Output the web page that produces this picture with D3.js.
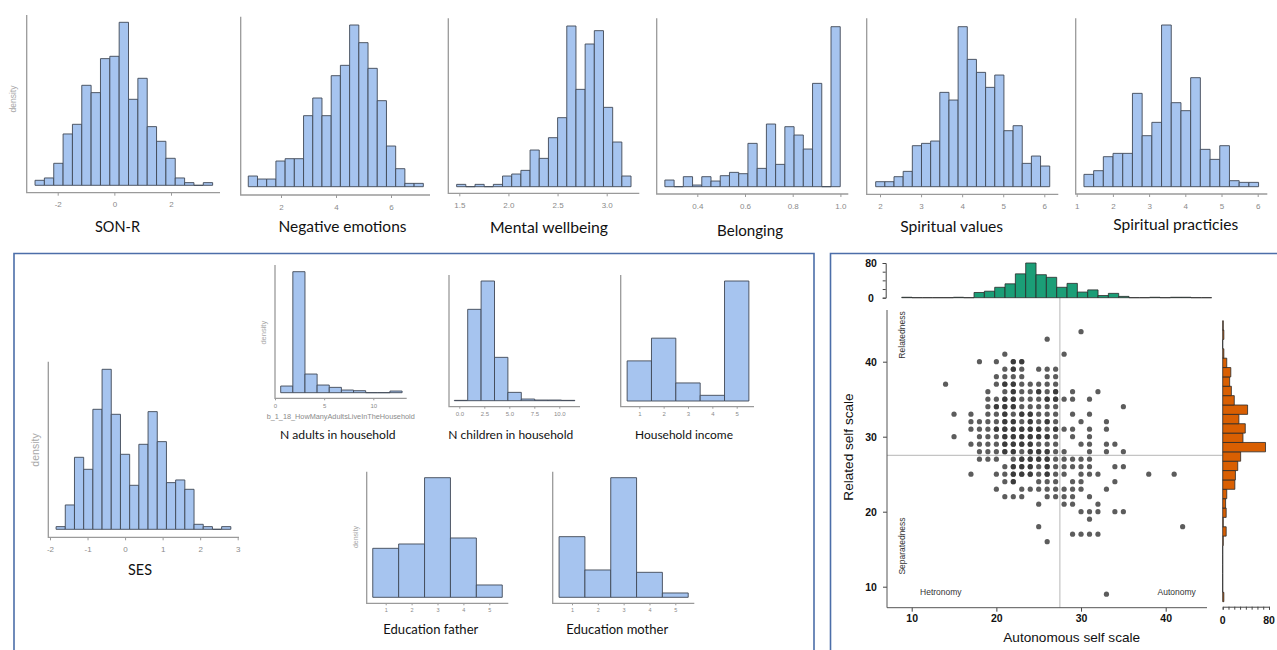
<!DOCTYPE html>
<html><head><meta charset="utf-8">
<script src="https://cdn.jsdelivr.net/npm/d3@7"></script>
<style>
html,body{margin:0;padding:0;background:#fff;}
svg{display:block;}
</style></head><body>
<svg id="chart" width="1277" height="650"></svg>
<script>
// ================= DATA =================
// Top row histograms (bin counts, relative density)
const topTitles = ["SON-R", "Negative emotions", "Mental wellbeing", "Belonging", "Spiritual values", "Spiritual practicies"];
const sonR          = [15,22,66,154,183,300,278,380,387,489,258,321,176,132,81,22,8,0,8];
const negEmotions   = [32,23,23,77,84,84,213,266,213,333,364,485,432,355,258,122,54,10,10];
const wellbeing     = [7,0,7,0,7,32,38,49,110,85,147,207,482,292,428,468,238,134,32];
const belonging     = [20,0,30,5,30,17,33,43,39,130,55,188,67,180,155,113,310,0,480];
const spiritValues  = [15,15,30,46,123,130,137,283,260,480,382,343,298,335,168,183,70,92,62];
const spiritPract   = [37,48,90,100,100,280,153,193,485,252,228,327,112,82,123,18,13,13];
const topBinStart   = [-2.8, 0.81, 1.473, 0.264, 1.895, 1.2];
const topBinWidth   = [0.33, 0.335, 0.0934, 0.0387, 0.223, 0.268];
const topTicks      = [[-2,0,2],[2,4,6],[1.5,2.0,2.5,3.0],[0.4,0.6,0.8,1.0],[2,3,4,5,6],[1,2,3,4,5,6]];
const topTickLabels = [["-2","0","2"],["2","4","6"],["1.5","2.0","2.5","3.0"],["0.4","0.6","0.8","1.0"],["2","3","4","5","6"],["1","2","3","4","5","6"]];

// Bottom-left panel histograms
const bottomTitles = ["SES", "N adults in household", "N children in household", "Household income", "Education father", "Education mother"];
const ses        = [8,73,216,180,360,480,345,225,132,255,353,263,140,148,120,15,8,0,8];
const nAdults    = [20,363,56,23,16,8,6,0,0,5];
const nChildren  = [1,274,359,130,25,5,2,2,1];
const income     = [120,188,54,17,359];
const eduFather  = [147,160,359,178,37];
const eduMother  = [182,82,359,75,13];
const botBinStart = [-1.838, 0.58, -0.5, 0.5, 0.5, 0.5];
const botBinWidth = [0.245, 1.235, 1.34, 1, 1, 1];
const botTicks      = [[-2,-1,0,1,2,3],[0,5,10],[0,2.5,5,7.5,10],[1,2,3,4,5],[1,2,3,4,5],[1,2,3,4,5]];
const botTickLabels = [["-2","-1","0","1","2","3"],["0","5","10"],["0.0","2.5","5.0","7.5","10.0"],["1","2","3","4","5"],["1","2","3","4","5"],["1","2","3","4","5"]];
const adultsVarName = "b_1_18_HowManyAdultsLiveInTheHousehold";

// Scatter: Autonomous (x) vs Related (y) self scale
const relatedLevels = [44,43,41,40,39,38,37,36,35,34,33,32,31,30,29,28,27,26,25,24,23,22,21,20,19,18,17,16,9];
const autonomyAtLevel = [
  [30],
  [26],
  [21,28],
  [18,20,22,23],
  [21,22,23,25,26,27],
  [20,21,22,23,26,27],
  [14,20,21,22,23,24,25,26,27],
  [19,21,22,23,24,25,26,27,29,32],
  [19,20,21,22,23,24,25,26,27,28,29,31],
  [19,20,21,22,23,24,25,26,27,35],
  [15,17,19,20,21,22,23,24,25,26,27,29,31],
  [17,18,19,20,21,22,23,24,25,26,27,30,33],
  [17,18,19,20,21,22,23,24,25,26,27,28,29,31,33],
  [15,18,19,20,21,22,23,24,25,26,27,29,31],
  [17,18,19,20,21,22,23,24,25,26,27,30,31,33,34],
  [18,19,20,21,22,23,24,25,26,27,28,31,33,35],
  [18,19,20,22,23,24,25,26,27,28,29,30,31],
  [21,22,23,24,25,26,27,28,29,30,31,34,35],
  [17,20,21,22,23,24,25,26,27,28,30,31,32,38,41],
  [21,22,25,26,27,29,30,34],
  [20,23,24,25,26,27,28,29,30,33],
  [21,22,23,26,27,28,29,31],
  [25,28,29,32],
  [30,31,32,34,35],
  [31],
  [25,42],
  [29,30,31,32],
  [26],
  [33]
];
// repeated observations (overplotted, darker)
const denseLevels = [40,39,37,36,35,34,33,32,31,30,29,28,27,26,25,24];
const denseAtLevel = [[22,23],[22],[21,22],[22,25,27],[21,22,26,27],[20,21,22],[21,23,24],[21,22,24,26],[20,21,22,23,24,25,27],[21,22,23,24,25,26],[21,22,23,24],[21,22,24,25,26],[23,24,25,26],[22,23,24,26],[22,23,24,26],[22]];
const autonomyMean = 27.5;
const relatedMean = 27.5;
const scatterTicks = [10,20,30,40];
// marginal histograms
const autonomyHist = [1,0,0,0,0,1,0,12,15,24,32,55,80,53,47,24,33,13,18,5,10,3,0,0,1,0,1,1,0,0];
const autonomyHistStart = 9, autonomyHistWidth = 1.2;
const relatedHist = [2,0,0,0,0,0,1,6,1,6,5,7,21,22,26,31,74,35,39,28,43,20,15,12,14,7,2,0,2,1];
const relatedHistStart = 8.5, relatedHistWidth = 1.2;
const margTicks = [0,80];

// ================= LAYOUT / STYLE =================
const FILL = "#a6c4ef", BSTROKE = "#3f4756";
const TITLE_FONT = "Lato, 'Open Sans', sans-serif";
const AX_FONT = "'Liberation Sans', Arial, sans-serif";

const topLayout = [
  {axX:26.7, axY:192.7, yTop:15, xEnd:220, base:185.3, top:22.3, d0:-2, d1:2, p0:57.7, p1:171, tx:117.5, ty:232, tw:45},
  {axX:240.7, axY:195, yTop:16.7, xEnd:430, base:186.7, top:25, d0:2, d1:6, p0:281, p1:391, tx:342.5, ty:232, tw:128},
  {axX:448.3, axY:193.3, yTop:18.3, xEnd:639.3, base:186.7, top:26, d0:1.5, d1:3.0, p0:459.3, p1:606.7, tx:549, ty:232.5, tw:118},
  {axX:656.7, axY:194, yTop:18.3, xEnd:848.3, base:186.7, top:26.7, d0:0.4, d1:0.8, p0:697.3, p1:792.7, tx:750, ty:236, tw:66},
  {axX:866.7, axY:194.3, yTop:18.3, xEnd:1058.3, base:186.7, top:26.7, d0:2, d1:6, p0:880, p1:1044.3, tx:951.7, ty:231.5, tw:103},
  {axX:1075.7, axY:194, yTop:18.3, xEnd:1267.3, base:186.7, top:25, d0:1, d1:6, p0:1076.7, p1:1257.7, tx:1175.8, ty:230, tw:125}
];
const botLayout = [
  {axX:48.3, axY:537.3, yTop:361.7, xEnd:239, base:529.3, top:369.3, d0:-2, d1:3, p0:50, p1:237.7, tx:140, ty:575, tw:24, tf:8, ts:3, tp:6},
  {axX:275, axY:398.3, yTop:265, xEnd:406.7, base:392.7, top:271.7, d0:0, d1:10, p0:275, p1:373.3, tx:337.8, ty:438.5, tw:115.7, tf:6, ts:2, tp:3},
  {axX:449, axY:406.7, yTop:275, xEnd:580, base:400.7, top:281, d0:0, d1:10, p0:459.3, p1:559.3, tx:510.8, ty:438.5, tw:125, tf:6, ts:2, tp:3},
  {axX:620.7, axY:406.7, yTop:275, xEnd:754, base:401, top:281, d0:1, d1:5, p0:639.3, p1:736.7, tx:684, ty:438.5, tw:98, tf:6, ts:2, tp:3},
  {axX:366.7, axY:603.3, yTop:471.7, xEnd:508.3, base:597.3, top:477.7, d0:1, d1:5, p0:385.7, p1:489.3, tx:430.8, ty:634, tw:95, tf:5.5, ts:2, tp:3},
  {axX:552.7, axY:603.3, yTop:471.7, xEnd:694.3, base:597.3, top:477.7, d0:1, d1:5, p0:572, p1:675.3, tx:617.2, ty:634, tw:102, tf:5.5, ts:2, tp:3}
];

const svg = d3.select("#chart");

function fitText(t, w) {
  const base = 16;
  t.style("font-size", base + "px");
  const cur = t.node().getComputedTextLength();
  if (cur > 0) t.style("font-size", (base * w / cur).toFixed(2) + "px");
}

function histogram(title, counts, start, width, L, ticks, labels, tf, ts, tp) {
  const g = svg.append("g");
  const x = d3.scaleLinear().domain([L.d0, L.d1]).range([L.p0, L.p1]);
  const y = d3.scaleLinear().domain([0, d3.max(counts)]).range([L.base, L.top]);
  g.selectAll("path.bar").data(counts).join("path").attr("class", "bar")
    .attr("d", (c, i) => {
      const a = x(start + i * width), b = x(start + (i + 1) * width);
      return `M${a},${L.base}V${y(c)}H${b}V${L.base}Z`;
    })
    .attr("fill", FILL).attr("stroke", BSTROKE).attr("stroke-width", 0.9);
  const ax = d3.axisBottom(x).tickValues(ticks).tickFormat((d, i) => labels[i]).tickSize(ts).tickPadding(tp);
  const ag = g.append("g").attr("transform", `translate(0,${L.axY})`).call(ax)
    .attr("font-family", AX_FONT).attr("font-size", tf);
  ag.select(".domain").remove();
  ag.selectAll("line").attr("stroke", "#9a9a9a");
  ag.selectAll("text").attr("fill", "#8a8a8a");
  g.append("path").attr("d", `M${L.axX},${L.yTop}V${L.axY}H${L.xEnd}`)
    .attr("fill", "none").attr("stroke", "#9a9a9a").attr("stroke-width", 1.3);
  const t = g.append("text").attr("x", L.tx).attr("y", L.ty).attr("text-anchor", "middle")
    .attr("font-family", TITLE_FONT).attr("fill", "#111").text(title);
  fitText(t, L.tw);
}

function densityLabel(x, y, size) {
  svg.append("text").attr("transform", `translate(${x},${y}) rotate(-90)`)
    .attr("text-anchor", "middle").attr("dominant-baseline", "central")
    .attr("font-family", AX_FONT).attr("font-size", size).attr("fill", "#a8a8a8").text("density");
}

// ---- top row ----
const topData = [sonR, negEmotions, wellbeing, belonging, spiritValues, spiritPract];
topData.forEach((d, i) => histogram(topTitles[i], d, topBinStart[i], topBinWidth[i], topLayout[i], topTicks[i], topTickLabels[i], 8, 3, 6));
densityLabel(12.5, 99, 8.5);

// ---- panel boxes ----
svg.append("path").attr("d", "M14,652V253.5H814V652").attr("fill", "none").attr("stroke", "#4c6ea9").attr("stroke-width", 1.6);
svg.append("path").attr("d", "M830.5,652V253.5H1280").attr("fill", "none").attr("stroke", "#4c6ea9").attr("stroke-width", 1.6);

// ---- bottom-left histograms ----
const botData = [ses, nAdults, nChildren, income, eduFather, eduMother];
botData.forEach((d, i) => {
  const L = botLayout[i];
  histogram(bottomTitles[i], d, botBinStart[i], botBinWidth[i], L, botTicks[i], botTickLabels[i], L.tf, L.ts, L.tp);
});
densityLabel(35, 450, 10.5);
densityLabel(263.3, 332.7, 7.5);
densityLabel(355, 537, 7);
svg.append("text").attr("x", 340.7).attr("y", 419).attr("text-anchor", "middle")
  .attr("font-family", AX_FONT).attr("font-size", 7.3).attr("fill", "#8a8a8a").text(adultsVarName);

// ---- scatter with marginal histograms ----
const sx = d3.scaleLinear().domain([10, 40]).range([911.7, 1165.7]);
const sy = d3.scaleLinear().domain([10, 40]).range([586.7, 361.7]);
const plotLeft = 887, plotRight = 1207, plotTop = 310, plotBottom = 607.7;

const pts = [];
relatedLevels.forEach((r, i) => autonomyAtLevel[i].forEach(a => pts.push([a, r])));
denseLevels.forEach((r, i) => denseAtLevel[i].forEach(a => pts.push([a, r])));

// reference lines at means
const histTopBase = 297.7;
const rhx = d3.scaleLinear().domain([0, 80]).range([1222.7, 1269]);
svg.append("line").attr("x1", sx(autonomyMean)).attr("x2", sx(autonomyMean)).attr("y1", histTopBase).attr("y2", plotBottom)
  .attr("stroke", "#c4c4c4").attr("stroke-width", 1.2);
svg.append("line").attr("x1", plotLeft).attr("x2", rhx(0)).attr("y1", sy(relatedMean)).attr("y2", sy(relatedMean))
  .attr("stroke", "#c4c4c4").attr("stroke-width", 1.2);

svg.append("g").selectAll("circle").data(pts).join("circle")
  .attr("cx", d => sx(d[0])).attr("cy", d => sy(d[1])).attr("r", 2.6)
  .attr("fill", "#333").attr("fill-opacity", 0.8);

// axes
const boldTick = sel => sel.attr("font-family", AX_FONT).attr("font-size", 10.5).attr("font-weight", "bold");
const xg = svg.append("g").attr("transform", `translate(0,${plotBottom})`)
  .call(d3.axisBottom(sx).tickValues(scatterTicks).tickSize(4).tickPadding(3));
xg.select(".domain").remove();
boldTick(xg);
xg.selectAll("line").attr("stroke", "#444");
xg.selectAll("text").attr("fill", "#111");
const yg = svg.append("g").attr("transform", `translate(${plotLeft},0)`)
  .call(d3.axisLeft(sy).tickValues(scatterTicks).tickSize(4));
yg.select(".domain").remove();
boldTick(yg);
yg.selectAll("line").attr("stroke", "#444");
yg.selectAll("text").attr("fill", "#111").attr("text-anchor", "middle").attr("x", -16);
svg.append("path").attr("d", `M${plotLeft},${plotTop}V${plotBottom}H${plotRight}`)
  .attr("fill", "none").attr("stroke", "#555").attr("stroke-width", 1);

svg.append("text").attr("transform", "translate(848,447) rotate(-90)").attr("text-anchor", "middle")
  .attr("dominant-baseline", "central").attr("font-family", AX_FONT).attr("font-size", 13.6).attr("fill", "#111")
  .text("Related self scale");
svg.append("text").attr("x", 1071.7).attr("y", 641.5).attr("text-anchor", "middle")
  .attr("font-family", AX_FONT).attr("font-size", 13.6).attr("fill", "#111").text("Autonomous self scale");

const small = (txt, x, y, rot) => svg.append("text")
  .attr("transform", `translate(${x},${y})` + (rot ? " rotate(-90)" : ""))
  .attr("text-anchor", "middle").attr("dominant-baseline", "central")
  .attr("font-family", AX_FONT).attr("font-size", 8.5).attr("fill", "#333").text(txt);
small("Relatedness", 901.5, 335, true);
small("Separatedness", 901.5, 546, true);
small("Hetronomy", 940.8, 591.5, false);
small("Autonomy", 1176.7, 591.5, false);

// top marginal histogram (autonomy)
const thx = d3.scaleLinear().domain([autonomyHistStart, autonomyHistStart + autonomyHistWidth * autonomyHist.length]).range([901.7, 1211.7]);
const thy = d3.scaleLinear().domain([0, 80]).range([histTopBase, 263]);
svg.append("g").selectAll("path").data(autonomyHist).join("path")
  .attr("d", (c, i) => {
    const a = thx(autonomyHistStart + i * autonomyHistWidth), b = thx(autonomyHistStart + (i + 1) * autonomyHistWidth);
    return `M${a},${histTopBase}V${thy(c)}H${b}V${histTopBase}Z`;
  })
  .attr("fill", "#1b9e77").attr("stroke", "#2a2a2a").attr("stroke-width", 0.8);
const tyg = svg.append("g").attr("transform", "translate(885.7,0)")
  .call(d3.axisLeft(thy).tickValues([0,20,40,60,80]).tickSize(3).tickFormat(""));
tyg.select(".domain").attr("stroke", "#444");
tyg.selectAll("line").attr("stroke", "#444");
svg.append("g").selectAll("text").data(margTicks).join("text")
  .attr("x", 871).attr("y", d => thy(d)).attr("text-anchor", "middle").attr("dominant-baseline", "central")
  .call(boldTick).attr("fill", "#111").text(d => d);

// right marginal histogram (related)
const rhy = d3.scaleLinear().domain([relatedHistStart, relatedHistStart + relatedHistWidth * relatedHist.length]).range([601.7, 320.7]);
svg.append("g").selectAll("path").data(relatedHist).join("path")
  .attr("d", (c, i) => {
    const a = rhy(relatedHistStart + i * relatedHistWidth), b = rhy(relatedHistStart + (i + 1) * relatedHistWidth);
    return `M${rhx(0)},${a}H${rhx(c)}V${b}H${rhx(0)}Z`;
  })
  .attr("fill", "#d95f02").attr("stroke", "#2a2a2a").attr("stroke-width", 0.8);
const rxg = svg.append("g").attr("transform", "translate(0,606.7)")
  .call(d3.axisBottom(rhx).tickValues(d3.range(0, 81, 10)).tickSize(3).tickFormat(""));
rxg.select(".domain").attr("stroke", "#444");
rxg.selectAll("line").attr("stroke", "#444");
svg.append("g").selectAll("text").data(margTicks).join("text")
  .attr("x", d => rhx(d)).attr("y", 620).attr("text-anchor", "middle").attr("dominant-baseline", "central")
  .call(boldTick).attr("fill", "#111").text(d => d);
</script>
</body></html>
